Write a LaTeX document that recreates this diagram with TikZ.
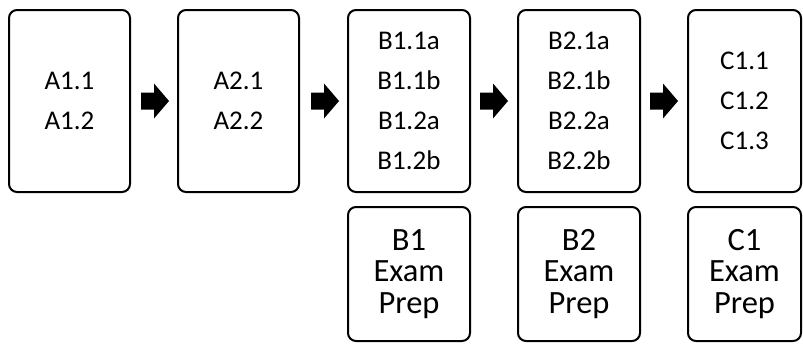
\documentclass[tikz,border=0pt]{standalone}
\usepackage{fontspec}
\setmainfont{Carlito}
\begin{document}
\begin{tikzpicture}[x=1pt,y=-1pt,
  box/.style={draw=black,line width=2pt,rounded corners=8pt,inner sep=0pt,
    align=center,minimum width=121pt,minimum height=182pt,
    font=\fontsize{27}{40}\selectfont},
  prepbox/.style={box,minimum height=134pt,font=\fontsize{32.5}{31.5}\selectfont},
  blockarrow/.pic={\fill[black] (-14,-8.5) -- (-1,-8.5) -- (-1,-17.5) -- (14,0)
    -- (-1,17.5) -- (-1,8.5) -- (-14,8.5) -- cycle;}]
\useasboundingbox (0,0) rectangle (803,343);
\node[box] (a1) at (69.5,101) {A1.1\\A1.2};
\node[box] (a2) at (238.5,101) {A2.1\\A2.2};
\node[box,minimum width=122pt] (b1) at (409,101) {B1.1a\\B1.1b\\B1.2a\\B1.2b};
\node[box,minimum width=122pt] (b2) at (579,101) {B2.1a\\B2.1b\\B2.2a\\B2.2b};
\node[box,minimum width=113pt] (c1) at (744.5,101) {C1.1\\C1.2\\C1.3};
\node[prepbox,minimum width=122pt] (b1p) at (409,274) {B1\\Exam\\Prep};
\node[prepbox,minimum width=122pt] (b2p) at (579,274) {B2\\Exam\\Prep};
\node[prepbox,minimum width=113pt] (c1p) at (744.5,274) {C1\\Exam\\Prep};
\pic (ar1) at (155,101) {blockarrow};
\pic (ar2) at (325,101) {blockarrow};
\pic (ar3) at (494,101) {blockarrow};
\pic (ar4) at (664,101) {blockarrow};
\end{tikzpicture}
\end{document}
